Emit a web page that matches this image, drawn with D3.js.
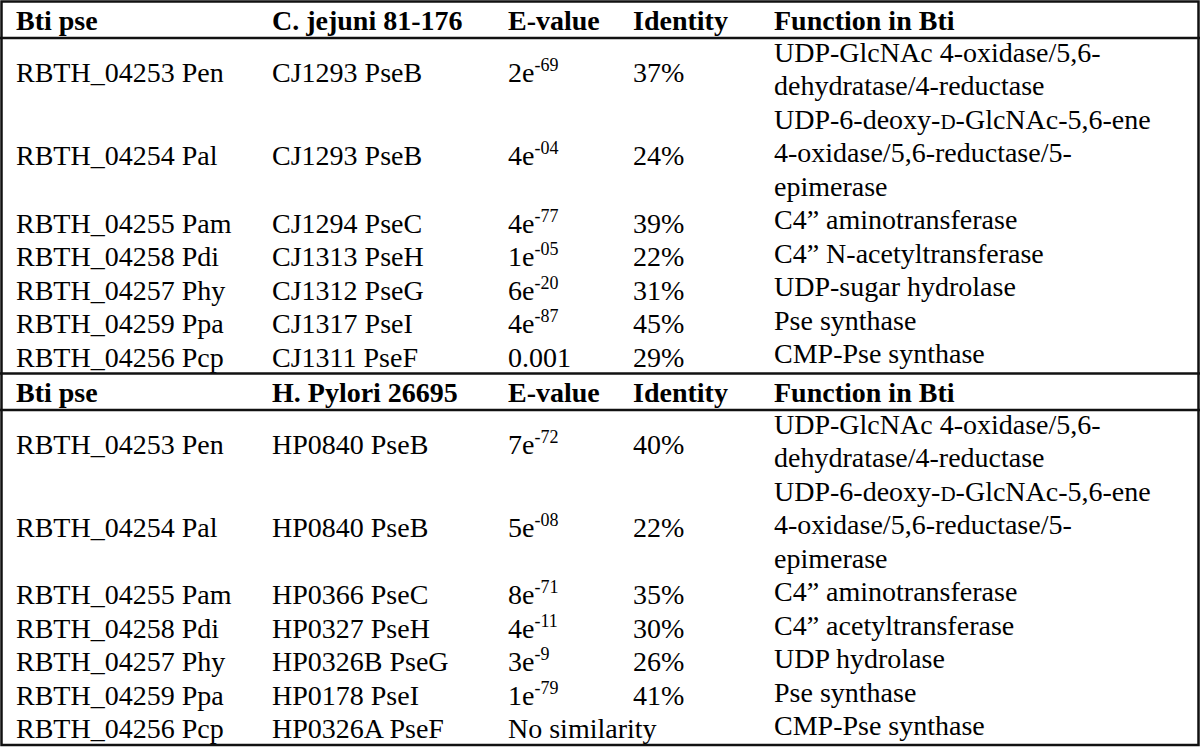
<!DOCTYPE html>
<html>
<head>
<meta charset="utf-8">
<script src="https://cdn.jsdelivr.net/npm/d3@7"></script>
<style>
  html, body { margin: 0; padding: 0; background: #fff; }
  svg { display: block; }
  .cell { font-family: "Liberation Serif", "Times New Roman", serif; font-size: 28px; fill: #000; }
  .head { font-weight: bold; }
</style>
</head>
<body>
<svg id="chart" width="1200" height="747"></svg>
<script>
// table content
var btiGenes = ["RBTH_04253 Pen", "RBTH_04254 Pal", "RBTH_04255 Pam", "RBTH_04258 Pdi", "RBTH_04257 Phy", "RBTH_04259 Ppa", "RBTH_04256 Pcp"];

var cjHeader = ["Bti pse", "C. jejuni 81-176", "E-value", "Identity", "Function in Bti"];
var cjHomologs = ["CJ1293 PseB", "CJ1293 PseB", "CJ1294 PseC", "CJ1313 PseH", "CJ1312 PseG", "CJ1317 PseI", "CJ1311 PseF"];
var cjEvalues = ["2e-69", "4e-04", "4e-77", "1e-05", "6e-20", "4e-87", "0.001"];
var cjIdentity = ["37%", "24%", "39%", "22%", "31%", "45%", "29%"];
var cjFunctions = [
  ["UDP-GlcNAc 4-oxidase/5,6-", "dehydratase/4-reductase"],
  ["UDP-6-deoxy-{D}-GlcNAc-5,6-ene", "4-oxidase/5,6-reductase/5-", "epimerase"],
  ["C4\u201d aminotransferase"],
  ["C4\u201d N-acetyltransferase"],
  ["UDP-sugar hydrolase"],
  ["Pse synthase"],
  ["CMP-Pse synthase"]
];

var hpHeader = ["Bti pse", "H. Pylori 26695", "E-value", "Identity", "Function in Bti"];
var hpHomologs = ["HP0840 PseB", "HP0840 PseB", "HP0366 PseC", "HP0327 PseH", "HP0326B PseG", "HP0178 PseI", "HP0326A PseF"];
var hpEvalues = ["7e-72", "5e-08", "8e-71", "4e-11", "3e-9", "1e-79", "No similarity"];
var hpIdentity = ["40%", "22%", "35%", "30%", "26%", "41%", ""];
var hpFunctions = [
  ["UDP-GlcNAc 4-oxidase/5,6-", "dehydratase/4-reductase"],
  ["UDP-6-deoxy-{D}-GlcNAc-5,6-ene", "4-oxidase/5,6-reductase/5-", "epimerase"],
  ["C4\u201d aminotransferase"],
  ["C4\u201d acetyltransferase"],
  ["UDP hydrolase"],
  ["Pse synthase"],
  ["CMP-Pse synthase"]
];

var svg = d3.select("#chart");
var W = 1200, H = 747;
var lineH = 33.6;
var colX = d3.scaleOrdinal().domain([0, 1, 2, 3, 4]).range([16, 272, 508, 633, 774]);

// write text, handling exponent superscripts and the small-cap D
function fillText(sel, str) {
  var m = /^([\d.]+e)(-\d+)$/.exec(str);
  if (m) {
    sel.append("tspan").text(m[1]);
    sel.append("tspan").attr("font-size", 18).attr("dy", -11).text(m[2]);
    return;
  }
  str.split(/(\{D\})/).forEach(function(part) {
    if (part === "{D}") sel.append("tspan").attr("font-size", 21).text("D");
    else if (part) sel.append("tspan").text(part);
  });
}

function renderSection(top, bottom, header, homologs, evalues, identity, functions) {
  var headBottom = top + 36.5;
  var nLines = d3.sum(functions, function(f) { return f.length; });
  var y = d3.scaleLinear().domain([0, nLines]).range([headBottom, bottom]);
  var g = svg.append("g");

  g.selectAll("text.head")
    .data(header)
    .enter()
    .append("text")
    .attr("class", "cell head")
    .attr("x", function(d, i) { return colX(i); })
    .attr("y", (top + headBottom) / 2 + 10)
    .text(function(d) { return d; });

  g.append("line")
    .attr("x1", 0).attr("x2", W)
    .attr("y1", headBottom).attr("y2", headBottom)
    .style("stroke", "#111").style("stroke-width", 2.5);

  var start = 0;
  var rows = btiGenes.map(function(gene, i) {
    var r = { cells: [gene, homologs[i], evalues[i], identity[i]], lines: functions[i], start: start };
    start += functions[i].length;
    return r;
  });

  var row = g.selectAll("g.row")
    .data(rows)
    .enter()
    .append("g")
    .attr("class", "row");

  row.each(function(r) {
    var rg = d3.select(this);
    var mid = (y(r.start) + y(r.start + r.lines.length)) / 2;
    r.cells.forEach(function(c, j) {
      if (!c) return;
      var t = rg.append("text").attr("class", "cell")
        .attr("x", colX(j)).attr("y", mid + 10);
      fillText(t, c);
    });
    r.lines.forEach(function(l, k) {
      var t = rg.append("text").attr("class", "cell")
        .attr("x", colX(4)).attr("y", y(r.start + k) + 23.5);
      fillText(t, l);
    });
  });
}

renderSection(1.5, 373.5, cjHeader, cjHomologs, cjEvalues, cjIdentity, cjFunctions);
renderSection(373.5, 745, hpHeader, hpHomologs, hpEvalues, hpIdentity, hpFunctions);

// section separator and outer frame
svg.append("line")
  .attr("x1", 0).attr("x2", W).attr("y1", 373.5).attr("y2", 373.5)
  .style("stroke", "#111").style("stroke-width", 2.5);

svg.append("rect")
  .attr("x", 1.5).attr("y", 1.5)
  .attr("width", W - 3).attr("height", 745 - 1.5)
  .style("fill", "none").style("stroke", "#111").style("stroke-width", 2.5);
</script>
</body>
</html>
